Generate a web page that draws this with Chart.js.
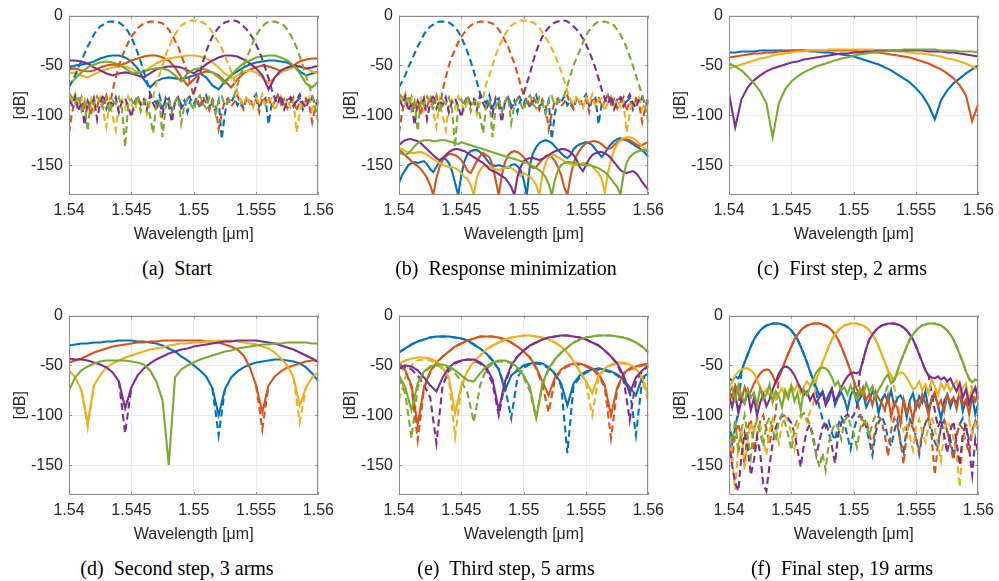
<!DOCTYPE html>
<html>
<head>
<meta charset="utf-8">
<script src="https://cdn.jsdelivr.net/npm/chart.js@4.4.0/dist/chart.umd.min.js"></script>
<style>
  html, body { margin: 0; padding: 0; background: #ffffff; }
  body { width: 999px; height: 581px; overflow: hidden; position: relative; }
  canvas { position: absolute; }
  .cap { position: absolute; font-family: "Liberation Serif", "DejaVu Serif", serif; font-size: 20px; line-height: 22px;
         color: #000; white-space: pre; transform: translateX(-50%); }
</style>
</head>
<body>
<canvas id="pa" width="340" height="250" style="left:0px;top:0px"></canvas>
<canvas id="pb" width="340" height="250" style="left:330px;top:0px"></canvas>
<canvas id="pc" width="340" height="250" style="left:660px;top:0px"></canvas>
<canvas id="pd" width="340" height="250" style="left:0px;top:300px"></canvas>
<canvas id="pe" width="340" height="250" style="left:330px;top:300px"></canvas>
<canvas id="pf" width="340" height="250" style="left:660px;top:300px"></canvas>
<div class="cap" style="left:177px;top:257px">(a)  Start</div>
<div class="cap" style="left:506px;top:257px">(b)  Response minimization</div>
<div class="cap" style="left:842px;top:257px">(c)  First step, 2 arms</div>
<div class="cap" style="left:177px;top:557px">(d)  Second step, 3 arms</div>
<div class="cap" style="left:506px;top:557px">(e)  Third step, 5 arms</div>
<div class="cap" style="left:842px;top:557px">(f)  Final step, 19 arms</div>
<script>
const N = null;
const COLORS = ['#0072BD', '#D95319', '#EDB120', '#7E2F8E', '#77AC30'];
const xTicks = [1.54, 1.545, 1.55, 1.555, 1.56];
const yTicks = [0, -50, -100, -150];
const xTitle = 'Wavelength [μm]';
const yTitle = '[dB]';

const waveCoarse = [1.54, 1.5405, 1.541, 1.5415, 1.542, 1.5425, 1.543, 1.5435, 1.544, 1.5445,
  1.545, 1.5455, 1.546, 1.5465, 1.547, 1.5475, 1.548, 1.5485, 1.549, 1.5495,
  1.55, 1.5505, 1.551, 1.5515, 1.552, 1.5525, 1.553, 1.5535, 1.554, 1.5545,
  1.555, 1.5555, 1.556, 1.5565, 1.557, 1.5575, 1.558, 1.5585, 1.559, 1.5595, 1.56];
const waveFine = [1.54, 1.54025, 1.5405, 1.54075, 1.541, 1.54125, 1.5415, 1.54175, 1.542, 1.54225,
  1.5425, 1.54275, 1.543, 1.54325, 1.5435, 1.54375, 1.544, 1.54425, 1.5445, 1.54475,
  1.545, 1.54525, 1.5455, 1.54575, 1.546, 1.54625, 1.5465, 1.54675, 1.547, 1.54725,
  1.5475, 1.54775, 1.548, 1.54825, 1.5485, 1.54875, 1.549, 1.54925, 1.5495, 1.54975,
  1.55, 1.55025, 1.5505, 1.55075, 1.551, 1.55125, 1.5515, 1.55175, 1.552, 1.55225,
  1.5525, 1.55275, 1.553, 1.55325, 1.5535, 1.55375, 1.554, 1.55425, 1.5545, 1.55475,
  1.555, 1.55525, 1.5555, 1.55575, 1.556, 1.55625, 1.5565, 1.55675, 1.557, 1.55725,
  1.5575, 1.55775, 1.558, 1.55825, 1.5585, 1.55875, 1.559, 1.55925, 1.5595, 1.55975, 1.56];

// ---------- (a) Start ----------
const aSolidBlue = [-52,-50,-49,-48,-46,-43,-41,-40,-40,-42, -46,-53,-64,-72,-66,-63,-62,-63,-64,-62,
  -60,-58,-62,-70,-74,-66,-60,-56,-52,-49, -47,-46,-45,-45,-46,-47,-50,-56,-60,-58, -56];
const aSolidRed = [-54,-53,-55,-56,-55,-52,-50,-49,-50,-48, -45,-43,-41,-40,-40,-42,-45,-52,-62,-70,
  -64,-58,-56,-57,-60,-66,-72,-64,-58,-54, -52,-50,-51,-53,-56,-54,-50,-46,-44,-43, -43];
const aSolidYellow = [-58,-57,-60,-62,-59,-56,-54,-52,-51,-51, -53,-57,-56,-52,-48,-45,-43,-42,-41,-40,
  -40,-41,-43,-47,-52,-58,-63,-60,-56,-55, -57,-62,-68,-62,-57,-54,-52,-51,-53,-56, -58];
const aSolidPurple = [-45,-45,-46,-48,-52,-55,-58,-60,-58,-57, -58,-60,-62,-58,-54,-52,-51,-51,-52,-55,
  -58,-54,-49,-45,-42,-40,-40,-41,-44,-48, -53,-60,-74,-62,-55,-52,-50,-51,-53,-52, -50];
const aSolidGreen = [-70,-63,-57,-52,-49,-47,-46,-47,-49,-53, -57,-58,-56,-54,-53,-53,-55,-60,-66,-58,
  -54,-53,-54,-57,-62,-68,-60,-53,-48,-45, -42,-41,-40,-40,-42,-45,-50,-58,-68,-72, -66];

const aDashBlue = [-72,-66,-60,-52,-45,-38,-31,-25,-19,-14, -11,-9,-7,-6,-6,-6,-7,-9,-12,-16,
  -22,-29,-37,-46,-56,-67,-78,-84,-88,-80, -92,-86,-83,-95,-87,-81,-90,-85,-97,-84,
  -89,-82,-93,-86,-80,-91,-88,-96,-85,-124, -98,-84,-87,-81,-90,-85,-93,-82,-88,-84,
  -79,-91,-86,-83,-109,-89,-85,-80,-87,-92, -84,-81,-89,-86,-83,-94,-85,-88,-82,-86, -84];
const aDashRed = [-118,-97,-84,-90,-82,-95,-86,-100,-84,-91, -83,-88,-80,-92,-75,-62,-50,-41,-34,-27,
  -21,-17,-13,-10,-8,-7,-6,-6,-6,-7, -8,-10,-14,-19,-25,-31,-40,-48,-58,-70,
  -80,-86,-92,-81,-88,-95,-84,-90,-114,-98, -85,-83,-91,-87,-80,-89,-94,-82,-86,-90,
  -84,-97,-83,-88,-81,-92,-86,-80,-89,-84, -93,-87,-82,-96,-85,-90,-83,-88,-107,-92, -86];
const aDashYellow = [-80,-86,-78,-92,-84,-108,-88,-83,-95,-87, -82,-97,-112,-86,-101,-115,-89,-84,-93,-81,
  -88,-96,-85,-90,-83,-99,-87,-82,-68,-60, -50,-40,-32,-25,-19,-14,-10,-8,-6,-5,
  -5,-5,-6,-7,-9,-12,-17,-22,-27,-33, -40,-48,-56,-65,-76,-84,-90,-80,-87,-93,
  -82,-88,-79,-91,-85,-83,-96,-87,-81,-90, -84,-92,-86,-117,-98,-85,-89,-82,-94,-86, -90];
const aDashPurple = [-84,-90,-81,-96,-87,-110,-86,-92,-83,-104, -88,-79,-93,-85,-90,-82,-97,-86,-83,-91,
  -102,-87,-81,-89,-84,-94,-80,-88,-95,-85, -99,-83,-90,-107,-86,-82,-93,-88,-84,-80,
  -78,-68,-58,-46,-36,-28,-21,-16,-12,-9, -7,-6,-5,-5,-6,-8,-11,-14,-18,-23,
  -29,-36,-44,-53,-63,-74,-83,-89,-80,-94, -86,-82,-91,-85,-79,-88,-93,-84,-81,-90, -86];
const aDashGreen = [-78,-82,-88,-80,-95,-86,-116,-84,-90,-81, -87,-93,-83,-98,-85,-89,-82,-94,-132,-88,
  -84,-91,-80,-96,-87,-83,-101,-118,-89,-85, -122,-92,-84,-97,-86,-81,-108,-90,-83,-88,
  -95,-84,-80,-89,-93,-82,-87,-99,-85,-81, -90,-86,-84,-80,-70,-60,-50,-42,-35,-27,
  -20,-15,-11,-8,-6,-6,-6,-7,-8,-10, -14,-19,-25,-32,-41,-50,-60,-70,-80,-92, -108];

// ---------- (b) Response minimization (dashed traces are the same as in (a)) ----------
const bSolidBlue = [-168,-160,-155,-150,-148,-147,-148,-147,-146,-149, -154,-157,-152,-146,-143,-144,-148,-156,-168,-180,
  -160,-146,-139,-136,-135,-135,-137,-140,-144,-148, -150,-151,-150,-151,-152,-153,-150,-149,-151,-155,
  -165,-180,-150,-138,-132,-128,-126,-125,-126,-128, -131,-135,-138,-141,-143,-140,-134,-131,-129,-128,
  -127,-128,-130,-134,-138,-142,-138,-133,-129,-126, -124,-123,-124,-125,-127,-129,-131,-133,-135,-138, -142];
const bSolidRed = [-135,-137,-140,-143,-146,-149,-151,-154,-158,-163, -170,-180,-163,-152,-145,-141,-139,-139,-140,-142,
  -145,-150,-156,-158,-152,-146,-141,-138,-140,-142, -150,-165,-180,-160,-147,-140,-137,-136,-137,-139,
  -142,-146,-150,-153,-152,-148,-144,-141,-140,-142, -146,-152,-160,-172,-180,-162,-148,-140,-135,-131,
  -128,-127,-126,-126,-127,-129,-132,-134,-133,-130, -127,-125,-124,-124,-125,-127,-129,-131,-130,-128, -127];
const bSolidYellow = [-133,-134,-136,-137,-138,-138,-137,-137,-138,-140, -142,-144,-146,-148,-150,-151,-152,-152,-153,-155,
  -158,-162,-164,-170,-180,-162,-155,-151,-150,-151, -153,-154,-155,-154,-153,-152,-153,-155,-158,-161,
  -158,-160,-162,-165,-170,-180,-160,-148,-142,-140, -140,-142,-144,-146,-148,-149,-150,-150,-149,-148,
  -148,-149,-151,-155,-158,-164,-178,-158,-145,-135, -129,-125,-123,-122,-122,-123,-125,-128,-131,-134, -137];
const bSolidPurple = [-130,-127,-125,-124,-124,-125,-126,-128,-131,-134, -137,-140,-143,-145,-143,-140,-137,-135,-134,-134,
  -135,-136,-138,-140,-142,-144,-146,-148,-151,-154, -156,-157,-159,-161,-163,-167,-172,-180,-162,-152,
  -146,-144,-143,-143,-144,-145,-144,-142,-140,-138, -136,-135,-134,-134,-135,-137,-140,-145,-152,-156,
  -150,-144,-140,-138,-137,-137,-138,-140,-143,-147, -151,-155,-157,-158,-157,-156,-158,-162,-167,-171, -175];
const bSolidGreen = [-137,-139,-140,-138,-135,-131,-128,-126,-125,-125, -125,-126,-126,-125,-125,-125,-126,-127,-128,-129,
  -127,-128,-129,-130,-131,-132,-133,-134,-135,-136, -137,-138,-139,-140,-141,-142,-143,-144,-145,-146,
  -147,-148,-149,-151,-153,-155,-158,-162,-169,-180, -165,-155,-150,-148,-147,-147,-148,-148,-149,-150,
  -150,-150,-151,-152,-153,-155,-157,-160,-164,-168, -172,-180,-160,-148,-142,-139,-137,-136,-135,-135, -136];

// ---------- (c) First step, 2 arms ----------
const cBlue = [-37,-37,-36,-36,-36,-35,-35,-35,-35,-35, -35,-35,-35,-36,-36,-37,-37,-38,-39,-40,
  -41,-43,-45,-47,-49,-52,-55,-59,-63,-67, -73,-80,-90,-104,-85,-75,-68,-63,-58,-54, -50];
const cRed = [-42,-41,-40,-39,-38,-38,-37,-37,-36,-36, -35,-35,-35,-35,-35,-35,-35,-35,-35,-35,
  -35,-36,-36,-37,-37,-38,-39,-40,-41,-42, -44,-46,-48,-51,-54,-58,-63,-70,-80,-106, -88];
const cYellow = [-53,-51,-49,-47,-45,-43,-42,-40,-39,-38, -37,-36,-36,-35,-35,-35,-34,-34,-34,-34,
  -34,-34,-34,-34,-35,-35,-35,-36,-36,-37, -38,-38,-39,-40,-41,-43,-44,-46,-48,-51, -54];
const cPurple = [-78,-112,-84,-72,-65,-60,-56,-53,-51,-49, -47,-46,-44,-43,-42,-41,-40,-39,-38,-38,
  -37,-37,-36,-36,-35,-35,-35,-35,-35,-35, -35,-35,-36,-36,-36,-37,-37,-38,-39,-40, -41];
const cGreen = [-48,-51,-55,-61,-68,-76,-88,-122,-88,-74, -66,-61,-57,-54,-51,-49,-47,-45,-43,-42,
  -40,-39,-38,-37,-36,-36,-35,-35,-34,-34, -34,-34,-34,-34,-35,-35,-35,-36,-36,-36, -37];

// ---------- (d) Second step, 3 arms ----------
const dBlue = [-30,-29,-28,-28,-27,-27,-26,-26,-25,-25, -25,-26,-26,-27,-28,-30,-33,-36,-41,-45,
  -50,-55,-61,-73,-100,-74,-62,-56,-52,-49, -47,-46,-45,-44,-44,-45,-46,-48,-52,-58, -66];
const dRed = [-47,-45,-43,-40,-37,-35,-33,-31,-30,-29, -28,-27,-27,-26,-26,-25,-25,-25,-25,-25,
  -25,-25,-26,-26,-27,-29,-31,-34,-40,-52, -70,-97,-70,-61,-56,-52,-50,-48,-46,-45, -45];
const dYellow = [-55,-62,-75,-108,-70,-60,-52,-48,-45,-42, -40,-38,-36,-34,-33,-32,-30,-29,-28,-28,
  -27,-27,-26,-26,-25,-25,-25,-26,-27,-28, -29,-31,-33,-37,-43,-50,-62,-90,-72,-62, -57];
const dPurple = [-43,-44,-44,-45,-47,-49,-52,-57,-66,-93, -72,-60,-53,-48,-44,-41,-38,-36,-34,-33,
  -31,-30,-29,-28,-27,-26,-26,-25,-25,-25, -25,-26,-27,-28,-30,-32,-34,-37,-40,-43, -47];
const dGreen = [-75,-62,-55,-51,-48,-46,-45,-45,-45,-45, -46,-47,-49,-55,-66,-85,-150,-62,-54,-50,
  -47,-44,-42,-40,-38,-36,-35,-33,-32,-31, -30,-29,-29,-28,-28,-27,-27,-27,-27,-28, -28];
const dDashBlue = [N,N,N,N,N,N,N,N,N,N, N,N,N,N,N,N,N,N,N,N,
  N,N,N,-73,-120,-74,N,N,N,N, N,N,N,N,N,N,N,N,N,N, N];
const dDashRed = [N,N,N,N,N,N,N,N,N,N, N,N,N,N,N,N,N,N,N,N,
  N,N,N,N,N,N,N,N,N,N, -70,-114,-70,N,N,N,N,N,N,N, N];
const dDashYellow = [N,N,-75,-112,-70,N,N,N,N,N, N,N,N,N,N,N,N,N,N,N,
  N,N,N,N,N,N,N,N,N,N, N,N,N,N,N,N,-62,-107,-72,N, N];
const dDashPurple = [N,N,N,N,N,N,N,N,-66,-118, -72,N,N,N,N,N,N,N,N,N,
  N,N,N,N,N,N,N,N,N,N, N,N,N,N,N,N,N,N,N,N, N];

// ---------- (e) Third step, 5 arms ----------
const eBlue = [-37,-33,-29,-26,-24,-22,-21,-21,-21,-22, -23,-25,-29,-33,-38,-45,-54,-75,-60,-55,
  -50,-48,-47,-48,-52,-58,-68,-90,-68,-60, -56,-54,-53,-54,-56,-59,-64,-72,-80,-62, -58];
const eRed = [-47,-55,-70,-110,-72,-56,-47,-41,-36,-31, -28,-25,-23,-21,-21,-21,-22,-24,-27,-31,
  -36,-42,-52,-66,-80,-62,-54,-50,-48,-48, -50,-53,-58,-70,-100,-72,-58,-53,-51,-49, -48];
const eYellow = [-48,-45,-43,-42,-42,-43,-46,-52,-62,-98, -70,-55,-46,-40,-34,-30,-27,-24,-22,-21,
  -20,-20,-21,-22,-24,-27,-31,-37,-46,-56, -66,-78,-60,-53,-49,-47,-47,-49,-53,-62, -80];
const ePurple = [-52,-50,-51,-55,-62,-70,-76,-62,-52,-47, -45,-44,-44,-47,-52,-64,-95,-66,-50,-41,
  -35,-30,-27,-24,-22,-21,-20,-20,-21,-22, -24,-27,-30,-35,-41,-48,-60,-78,-62,-55, -50];
const eGreen = [-60,-72,-95,-68,-56,-51,-49,-49,-51,-55, -60,-65,-66,-58,-51,-47,-45,-45,-47,-52,
  -60,-72,-103,-68,-53,-44,-37,-32,-27,-24, -22,-21,-20,-20,-20,-21,-22,-24,-27,-31, -37];
const eDashBlue = [-37,-33,-29,-26,-24,-22,-21,-21,-21,-22, -23,-25,-29,-33,-38,-45,-54,-72,-103,-62,
  -52,-49,-48,-49,-53,-59,-70,-138,-70,-62, -57,-55,-54,-55,-57,-60,-66,-75,-120,-64, -60];
const eDashRed = [-49,-56,-72,-125,-74,-57,-48,-41,-36,-31, -28,-25,-23,-21,-21,-21,-22,-24,-27,-31,
  -36,-42,-53,-70,-97,-64,-55,-51,-49,-49, -51,-54,-60,-72,-123,-74,-59,-54,-52,-50, -49];
const eDashYellow = [-85,-62,-50,-45,-44,-45,-48,-54,-64,-122, -72,-56,-47,-40,-34,-30,-27,-24,-22,-21,
  -20,-20,-21,-22,-24,-27,-31,-37,-46,-56, -68,-100,-62,-54,-50,-48,-48,-50,-55,-65, -86];
const eDashPurple = [-53,-52,-54,-60,-70,-82,-128,-70,-55,-48, -45,-44,-45,-48,-54,-68,-100,-68,-51,-41,
  -35,-30,-27,-24,-22,-21,-20,-20,-21,-22, -24,-27,-30,-35,-41,-49,-63,-105,-65,-56, -51];
const eDashGreen = [-62,-78,-123,-72,-57,-52,-50,-50,-53,-58, -66,-78,-107,-70,-54,-48,-46,-46,-48,-54,
  -62,-76,-103,-70,-54,-44,-37,-32,-27,-24, -22,-21,-20,-20,-20,-21,-22,-24,-27,-31, -37];

// ---------- (f) Final step, 19 arms ----------
const fSolidBlue = [-62,-66,-61,-63,-56,-47,-39,-31,-24,-19, -15,-12,-10,-9,-8,-8,-8,-9,-10,-12,
  -15,-19,-24,-31,-39,-47,-56,-65,-72,-80, -76,-86,-79,-73,-90,-82,-77,-84,-95,-80,
  -74,-88,-83,-78,-92,-85,-76,-81,-98,-84, -79,-87,-75,-91,-83,-80,-86,-102,-85,-78,
  -93,-81,-87,-76,-95,-84,-80,-89,-104,-86, -79,-92,-83,-88,-77,-96,-85,-90,-81,-99, -87];
const fSolidRed = [-75,-82,-70,-78,-85,-72,-80,-76,-68,-63, -58,-55,-54,-55,-60,-68,-62,-54,-46,-38,
  -31,-24,-19,-15,-12,-10,-9,-8,-8,-8, -9,-10,-12,-15,-19,-24,-31,-39,-47,-56,
  -65,-74,-80,-72,-85,-78,-90,-76,-83,-88, -95,-80,-102,-87,-93,-108,-84,-97,-90,-105,
  -86,-92,-79,-88,-100,-83,-77,-91,-85,-96, -80,-87,-82,-94,-78,-89,-84,-99,-81,-86, -76];
const fSolidYellow = [-72,-66,-60,-56,-54,-53,-53,-55,-58,-64, -72,-78,-74,-80,-76,-84,-78,-73,-82,-77,
  -70,-75,-69,-78,-72,-66,-70,-68,-64,-56, -47,-39,-31,-24,-19,-15,-12,-10,-9,-8,
  -8,-8,-9,-10,-12,-15,-19,-24,-31,-39, -47,-55,-60,-64,-59,-57,-58,-62,-68,-74,
  -72,-66,-75,-69,-78,-64,-71,-80,-68,-74, -67,-76,-70,-65,-79,-72,-68,-85,-73,-77, -70];
const fSolidPurple = [-80,-92,-78,-98,-85,-88,-76,-95,-83,-100, -87,-79,-91,-84,-74,-66,-58,-53,-51,-52,
  -55,-60,-67,-73,-80,-76,-85,-79,-88,-82, -77,-90,-84,-74,-86,-80,-72,-66,-61,-58,
  -57,-58,-56,-45,-33,-24,-19,-15,-12,-10, -9,-8,-8,-8,-9,-10,-12,-15,-19,-24,
  -31,-39,-47,-55,-60,-62,-63,-61,-64,-62, -66,-63,-70,-76,-68,-82,-74,-88,-79,-72, -84];
const fSolidGreen = [-78,-72,-85,-70,-80,-88,-74,-82,-77,-90, -73,-84,-79,-69,-87,-76,-81,-92,-75,-83,
  -71,-86,-78,-95,-74,-80,-72,-64,-57,-53, -52,-53,-56,-62,-70,-66,-75,-72,-79,-70,
  -77,-84,-73,-80,-68,-76,-71,-82,-74,-69, -63,-59,-68,-65,-56,-47,-39,-31,-24,-19,
  -15,-12,-10,-9,-8,-8,-8,-9,-10,-12, -15,-19,-24,-31,-39,-47,-56,-63,-67,-64, -66];
const fDashBlue = [-105,-128,-112,-96,-56,-47,-39,-31,-24,-19, -15,-12,-10,-9,-8,-8,-8,-9,-10,-12,
  -15,-19,-24,-31,-39,-47,-56,-65,-78,-92, -104,-112,-106,-118,-125,-110,-102,-108,-121,-134,
  -115,-104,-100,-103,-112,-126,-140,-118,-107,-101, -109,-123,-131,-116,-105,-128,-137,-113,-104,-110,
  -122,-139,-119,-108,-102,-114,-127,-133,-111,-105, -116,-124,-142,-120,-109,-103,-112,-125,-118,-106, -115];
const fDashRed = [-130,-145,-118,-108,-125,-150,-112,-104,-136,-120, -106,-100,-114,-129,-110,-98,-62,-54,-46,-38,
  -31,-24,-19,-15,-12,-10,-9,-8,-8,-8, -9,-10,-12,-15,-19,-24,-31,-39,-47,-56,
  -65,-84,-98,-110,-104,-118,-132,-112,-101,-107, -120,-141,-115,-103,-110,-126,-149,-119,-106,-113,
  -124,-135,-117,-108,-102,-122,-160,-128,-111,-104, -116,-130,-145,-120,-109,-114,-127,-138,-115,-105, -112];
const fDashYellow = [-120,-142,-175,-130,-112,-155,-125,-108,-118,-102, -110,-125,-140,-116,-104,-113,-128,-109,-101,-106,
  -119,-134,-112,-103,-98,-107,-96,-88,-64,-56, -47,-39,-31,-24,-19,-15,-12,-10,-9,-8,
  -8,-8,-9,-10,-12,-15,-19,-24,-31,-39, -47,-55,-60,-72,-88,-102,-115,-108,-121,-135,
  -112,-104,-118,-127,-110,-101,-113,-130,-146,-117, -106,-111,-124,-139,-172,-128,-112,-105,-119,-108, -115];
const fDashPurple = [-125,-150,-168,-176,-140,-118,-132,-160,-145,-122, -138,-170,-176,-150,-128,-112,-105,-101,-100,-103,
  -108,-118,-135,-152,-130,-115,-109,-121,-140,-126, -112,-106,-117,-131,-148,-120,-108,-102,-99,-104,
  -100,-92,-56,-45,-33,-24,-19,-15,-12,-10, -9,-8,-8,-8,-9,-10,-12,-15,-19,-24,
  -31,-39,-47,-55,-60,-78,-95,-112,-104,-120, -138,-115,-106,-128,-150,-118,-109,-133,-160,-124, -140];
const fDashGreen = [-110,-128,-104,-138,-115,-100,-122,-142,-112,-106, -118,-131,-109,-102,-114,-126,-105,-99,-108,-120,
  -135,-113,-104,-100,-98,-102,-110,-125,-140,-152, -138,-155,-128,-116,-108,-112,-124,-106,-101,-110,
  -119,-132,-114,-105,-109,-121,-108,-100,-94,-86, -78,-70,-68,-65,-56,-47,-39,-31,-24,-19,
  -15,-12,-10,-9,-8,-8,-8,-9,-10,-12, -15,-19,-24,-31,-39,-47,-56,-63,-74,-86, -95];

// ---------- rendering ----------
const FONT = "'Liberation Sans', Arial, Helvetica, sans-serif";
const TEXT = '#262626';

function points(vals, name) {
  let grid;
  if (vals.length === waveFine.length) grid = waveFine;
  else if (vals.length === waveCoarse.length) grid = waveCoarse;
  else throw new Error('bad length ' + vals.length + ' in ' + name);
  return vals.map((v, k) => ({ x: grid[k], y: v }));
}

function dataset(vals, color, dashed, name) {
  return {
    data: points(vals, name),
    borderColor: color,
    borderWidth: 2.1,
    borderDash: dashed ? [7, 4] : [],
    pointRadius: 0,
    fill: false,
    tension: 0,
    spanGaps: false
  };
}

const boxPlugin = {
  id: 'matlabBox',
  afterDatasetsDraw(chart) {
    const { ctx, chartArea: a, scales } = chart;
    ctx.save();
    ctx.strokeStyle = '#8c8c8c';
    ctx.lineWidth = 1;
    ctx.beginPath();
    xTicks.forEach(v => {
      const p = Math.round(scales.x.getPixelForValue(v)) + 0.5;
      ctx.moveTo(p, a.bottom); ctx.lineTo(p, a.bottom - 3);
      ctx.moveTo(p, a.top); ctx.lineTo(p, a.top + 3);
    });
    yTicks.forEach(v => {
      const p = Math.round(scales.y.getPixelForValue(v)) + 0.5;
      ctx.moveTo(a.left, p); ctx.lineTo(a.left + 3, p);
      ctx.moveTo(a.right, p); ctx.lineTo(a.right - 3, p);
    });
    ctx.stroke();
    ctx.strokeRect(Math.round(a.left) + 0.5, Math.round(a.top) + 0.5,
                   Math.round(a.right - a.left) - 1, Math.round(a.bottom - a.top) - 1);
    ctx.restore();
  }
};

function axis(isX) {
  const base = {
    type: 'linear',
    grid: { color: '#ebebeb', lineWidth: 1, drawTicks: false },
    border: { display: false },
    ticks: { color: TEXT, font: { family: FONT, size: 16 }, padding: 6, autoSkip: false, maxRotation: 0,
             callback: v => String(v) }
  };
  if (isX) {
    return Object.assign(base, {
      min: xTicks[0], max: xTicks[xTicks.length - 1],
      afterBuildTicks: s => { s.ticks = xTicks.map(v => ({ value: v })); },
      afterFit: s => { s.height = 55; },
      title: { display: true, text: xTitle, color: TEXT, font: { family: FONT, size: 16 }, padding: { top: 0, bottom: 6 } }
    });
  }
  return Object.assign(base, {
    min: -180, max: 0,
    afterBuildTicks: s => { s.ticks = yTicks.map(v => ({ value: v })); },
    afterFit: s => { s.width = 69; },
    title: { display: true, text: yTitle, color: TEXT, font: { family: FONT, size: 16 }, padding: { top: 11, bottom: 0 } }
  });
}

function panel(id, solids, dashes, dashOnTop) {
  const s = solids.map((v, k) => v ? dataset(v, COLORS[k], false, id + 's' + k) : null).filter(Boolean);
  const d = dashes.map((v, k) => v ? dataset(v, COLORS[k], true, id + 'd' + k) : null).filter(Boolean);
  // bottom-to-top order, then reversed because Chart.js paints dataset 0 last
  const stack = dashOnTop ? s.concat(d) : d.concat(s);
  stack.reverse();
  new Chart(document.getElementById(id), {
    type: 'line',
    data: { datasets: stack },
    options: {
      responsive: false, animation: false, devicePixelRatio: 1, events: [],
      layout: { padding: { left: 0, right: 20, top: 15, bottom: 0 } },
      plugins: { legend: { display: false }, tooltip: { enabled: false }, title: { display: false } },
      scales: { x: axis(true), y: axis(false) }
    },
    plugins: [boxPlugin]
  });
}

panel('pa', [aSolidBlue, aSolidRed, aSolidYellow, aSolidPurple, aSolidGreen],
            [aDashBlue, aDashRed, aDashYellow, aDashPurple, aDashGreen], true);
panel('pb', [bSolidBlue, bSolidRed, bSolidYellow, bSolidPurple, bSolidGreen],
            [aDashBlue, aDashRed, aDashYellow, aDashPurple, aDashGreen], true);
panel('pc', [cBlue, cRed, cYellow, cPurple, cGreen], [], false);
panel('pd', [dBlue, dRed, dYellow, dPurple, dGreen],
            [dDashBlue, dDashRed, dDashYellow, dDashPurple, null], false);
panel('pe', [eBlue, eRed, eYellow, ePurple, eGreen],
            [eDashBlue, eDashRed, eDashYellow, eDashPurple, eDashGreen], false);
panel('pf', [fSolidBlue, fSolidRed, fSolidYellow, fSolidPurple, fSolidGreen],
            [fDashBlue, fDashRed, fDashYellow, fDashPurple, fDashGreen], false);
</script>
</body>
</html>
